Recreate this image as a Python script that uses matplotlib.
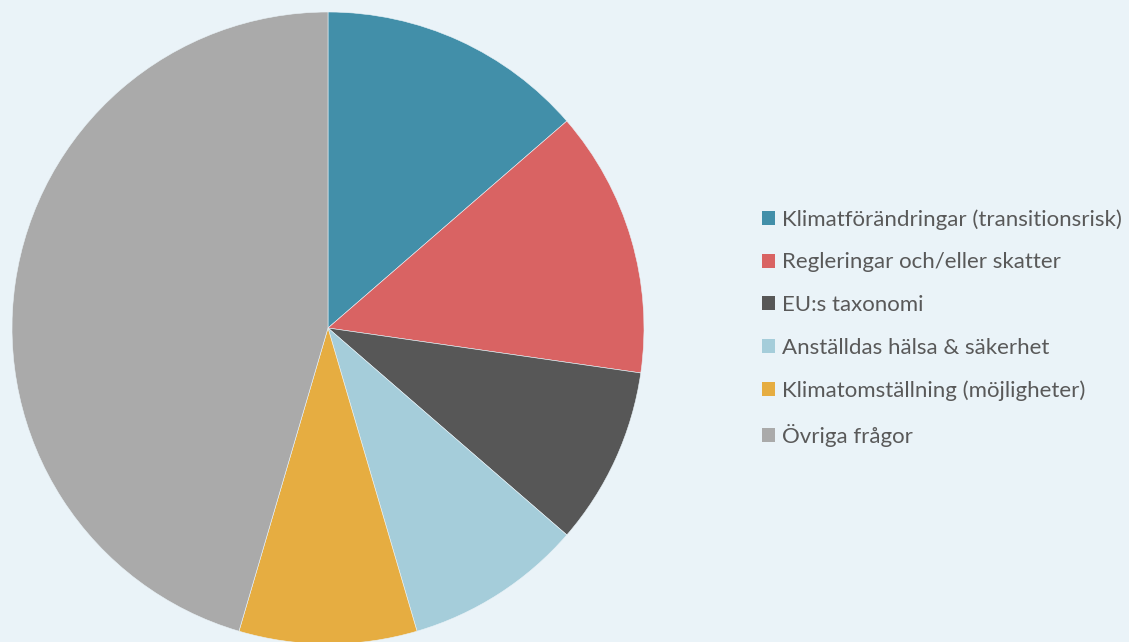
import matplotlib.pyplot as plt
from matplotlib.patches import Patch

plt.rcParams["font.family"] = ["Lato", "DejaVu Sans"]

# data
labels = [
    "Klimatförändringar (transitionsrisk)",
    "Regleringar och/eller skatter",
    "EU:s taxonomi",
    "Anställdas hälsa & säkerhet",
    "Klimatomställning (möjligheter)",
    "Övriga frågor",
]
values = [3, 3, 2, 2, 2, 10]
colors = ["#428FA9", "#D96363", "#575757", "#A5CDDA", "#E6AD41", "#AAAAAA"]

bg = "#EAF3F8"

fig = plt.figure(figsize=(11.29, 6.42), dpi=100)
fig.patch.set_facecolor(bg)

# pie axes: circle of radius ~316 px centred at (328, 328)
ax = fig.add_axes([12 / 1129, -2 / 642, 632 / 1129, 632 / 642])
ax.set_facecolor(bg)
ax.pie(values, colors=colors, startangle=90, counterclock=False,
       radius=1, wedgeprops=dict(edgecolor=bg, linewidth=0.4))
ax.set_xlim(-1, 1)
ax.set_ylim(-1, 1)
ax.set_aspect("equal")
ax.axis("off")

# legend on the right
handles = [Patch(facecolor=c, edgecolor="none") for c in colors]
leg = fig.legend(handles, labels, loc="center left",
                 bbox_to_anchor=(762 / 1129, 1 - 328 / 642),
                 frameon=False, fontsize=16, labelspacing=1.02,
                 handlelength=0.58, handleheight=0.58, handletextpad=0.3,
                 borderpad=0, borderaxespad=0)
for t in leg.get_texts():
    t.set_color("#595959")

fig.savefig("out.png", dpi=100, facecolor=bg)
